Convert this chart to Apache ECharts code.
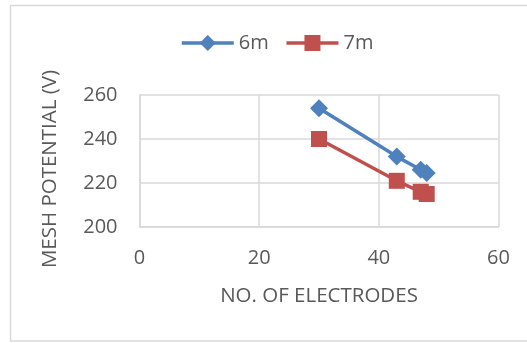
<!DOCTYPE html>
<html>
<head>
<meta charset="utf-8">
<script src="https://cdn.jsdelivr.net/npm/echarts@6/dist/echarts.min.js"></script>
<style>
html,body{margin:0;padding:0;background:#fff;}
#chart{width:527px;height:343px;}
</style>
</head>
<body>
<div id="chart"></div>
<script>
const seriesNames = ['6m', '7m'];
const electrodes = [30, 43, 47, 48];
const mesh6m = [254, 232, 226, 224.5];
const mesh7m = [240, 221, 216, 215];
const xTicks = [0, 20, 40, 60];
const yTicks = [200, 220, 240, 260];

const FONT = '"Open Sans", sans-serif';
const TXT = '#595959';
const GRID = '#d9d9d9';

const chart = echarts.init(document.getElementById('chart'), null, {renderer: 'canvas'});
chart.setOption({
  animation: false,
  backgroundColor: '#fff',
  graphic: [{
    type: 'rect',
    shape: {x: 10.5, y: 5.5, width: 600, height: 335.5},
    style: {fill: 'none', stroke: GRID, lineWidth: 1.5},
    silent: true
  }],
  legend: {
    left: 175, top: 28,
    itemWidth: 52, itemHeight: 20, itemGap: 16,
    lineStyle: {width: 3.5},
    textStyle: {fontFamily: FONT, fontSize: 20, color: TXT},
    data: seriesNames
  },
  grid: {left: 139.5, right: 28.5, top: 95, bottom: 116, containLabel: false},
  xAxis: {
    type: 'value',
    min: xTicks[0], max: xTicks[xTicks.length - 1], interval: 20,
    name: 'NO. OF ELECTRODES', nameLocation: 'middle', nameGap: 59,
    nameTextStyle: {fontFamily: FONT, fontSize: 20.5, color: TXT},
    axisLine: {show: true, lineStyle: {color: GRID, width: 1.5}},
    axisTick: {show: false},
    axisLabel: {margin: 21, fontFamily: FONT, fontSize: 20, color: TXT},
    splitLine: {show: true, lineStyle: {color: GRID, width: 1.5}}
  },
  yAxis: {
    type: 'value',
    min: yTicks[0], max: yTicks[yTicks.length - 1], interval: 20,
    name: 'MESH POTENTIAL (V)', nameLocation: 'middle', nameGap: 79,
    nameTextStyle: {fontFamily: FONT, fontSize: 20.5, color: TXT, padding: [0, 16, 0, 0]},
    axisLine: {show: true, lineStyle: {color: GRID, width: 1.5}},
    axisTick: {show: false},
    axisLabel: {margin: 22, fontFamily: FONT, fontSize: 20, color: TXT},
    splitLine: {show: true, lineStyle: {color: GRID, width: 1.5}}
  },
  series: [{
    name: seriesNames[0], type: 'line',
    data: electrodes.map((x, i) => [x, mesh6m[i]]),
    symbol: 'diamond', symbolSize: 18,
    lineStyle: {color: '#4f81bd', width: 3.5},
    itemStyle: {color: '#4f81bd'}
  }, {
    name: seriesNames[1], type: 'line',
    data: electrodes.map((x, i) => [x, mesh7m[i]]),
    symbol: 'rect', symbolSize: 16,
    lineStyle: {color: '#c0504d', width: 3.5},
    itemStyle: {color: '#c0504d'}
  }]
});
</script>
</body>
</html>
